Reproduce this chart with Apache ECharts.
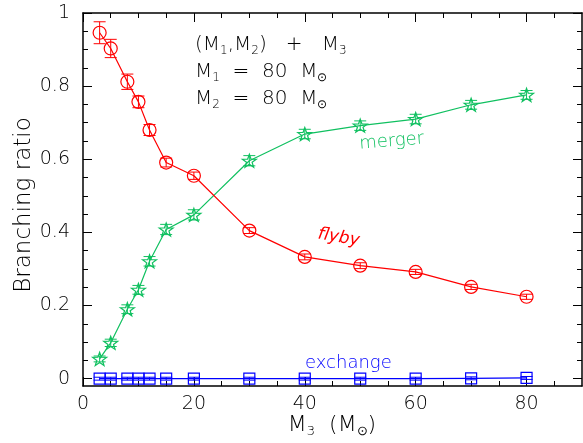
<!DOCTYPE html>
<html>
<head>
<meta charset="utf-8">
<script src="https://cdn.jsdelivr.net/npm/echarts@6/dist/echarts.min.js"></script>
<style>
  html, body { margin: 0; padding: 0; background: #fff; }
  #chart { width: 583px; height: 443px; }
</style>
</head>
<body>
<div id="chart"></div>
<script>
// Third-body mass M3 (solar masses)
const m3 = [3, 5, 8, 10, 12, 15, 20, 30, 40, 50, 60, 70, 80];

// Branching ratios and their uncertainties for each outcome
const flyby       = [0.946, 0.903, 0.812, 0.757, 0.680, 0.591, 0.555, 0.405, 0.333, 0.309, 0.292, 0.251, 0.224];
const flybyErr    = [0.030, 0.025, 0.021, 0.016, 0.015, 0.012, 0.010, 0.008, 0.008, 0.008, 0.007, 0.007, 0.007];
const merger      = [0.054, 0.098, 0.190, 0.243, 0.321, 0.408, 0.448, 0.596, 0.669, 0.692, 0.710, 0.749, 0.776];
const mergerErr   = [0.008, 0.010, 0.012, 0.012, 0.013, 0.014, 0.014, 0.014, 0.013, 0.013, 0.013, 0.012, 0.012];
const exchange    = [0, 0, 0, 0, 0, 0, 0, 0, 0, 0, 0, 0.001, 0.002];
const exchangeErr = [0.004, 0.004, 0.004, 0.004, 0.004, 0.004, 0.004, 0.004, 0.004, 0.004, 0.004, 0.004, 0.004];

// Tick positions
const xMajor = [0, 20, 40, 60, 80];
const xMinor = [5, 10, 15, 25, 30, 35, 45, 50, 55, 65, 70, 75, 85];
const yMajor = [0, 0.2, 0.4, 0.6, 0.8, 1];
const yMinor = [0.05, 0.1, 0.15, 0.25, 0.3, 0.35, 0.45, 0.5, 0.55, 0.65, 0.7, 0.75, 0.85, 0.9, 0.95];

const FONT = 'DejaVu Sans';
const W = 200;          // light stroke weight for all text
const INK = '#000';
const RED = '#ff0000';
const GREEN = '#10c060';
const BLUE = '#0000ff';

const chart = echarts.init(document.getElementById('chart'), null, { renderer: 'canvas' });

function xAxisDef(position, ticks, len, showLabels, showLine) {
  return {
    type: 'value', position, min: 0, max: 90,
    axisLine: { show: showLine, onZero: false, lineStyle: { color: '#000', width: 1.5 } },
    axisTick: { show: true, inside: true, length: len, customValues: ticks, lineStyle: { color: '#000', width: 1 } },
    axisLabel: { show: showLabels, customValues: xMajor, margin: 9, color: INK, fontFamily: FONT, fontWeight: W, fontSize: 19 },
    splitLine: { show: false }
  };
}
function yAxisDef(position, ticks, len, showLabels, showLine) {
  return {
    type: 'value', position, min: -0.02, max: 1,
    axisLine: { show: showLine, onZero: false, lineStyle: { color: '#000', width: 1.5 } },
    axisTick: { show: true, inside: true, length: len, customValues: ticks, lineStyle: { color: '#000', width: 1 } },
    axisLabel: { show: showLabels, customValues: yMajor, margin: 13, color: INK, fontFamily: FONT, fontWeight: W, fontSize: 19,
                 formatter: v => String(Math.round(v * 10) / 10) },
    splitLine: { show: false }
  };
}

function points(vals) {
  return m3.map((x, i) => [x, vals[i]]);
}

function errorBars(vals, errs, color) {
  return {
    type: 'custom',
    xAxisIndex: 0, yAxisIndex: 0,
    z: 4,
    silent: true,
    data: m3.map((x, i) => [x, vals[i] - errs[i], vals[i] + errs[i]]),
    encode: { x: 0, y: [1, 2] },
    renderItem(params, api) {
      const lo = api.coord([api.value(0), api.value(1)]);
      const hi = api.coord([api.value(0), api.value(2)]);
      const w = 6;
      const style = { stroke: color, lineWidth: 1 };
      return {
        type: 'group',
        children: [
          { type: 'line', shape: { x1: lo[0], y1: lo[1], x2: hi[0], y2: hi[1] }, style },
          { type: 'line', shape: { x1: lo[0] - w, y1: lo[1], x2: lo[0] + w, y2: lo[1] }, style },
          { type: 'line', shape: { x1: hi[0] - w, y1: hi[1], x2: hi[0] + w, y2: hi[1] }, style }
        ]
      };
    }
  };
}

const starPath = 'path://M0,-10 L2.35,-3.24 L9.51,-3.09 L3.8,1.24 L5.88,8.09 L0,4 L-5.88,8.09 L-3.8,1.24 L-9.51,-3.09 L-2.35,-3.24 Z';

function lineSeries(vals, color, symbol, size) {
  return {
    type: 'line',
    xAxisIndex: 0, yAxisIndex: 0,
    data: points(vals),
    symbol,
    symbolSize: size,
    showAllSymbol: true,
    z: 3,
    lineStyle: { color, width: 1.2 },
    itemStyle: { color: 'rgba(0,0,0,0)', borderColor: color, borderWidth: 1.2 },
    emphasis: { disabled: true }
  };
}

const big = { fontSize: 20, fontFamily: FONT, fontWeight: W, lineHeight: 24, color: INK };
const sub = { fontSize: 12, fontFamily: FONT, fontWeight: W, verticalAlign: 'bottom', lineHeight: 11, color: INK };

function noteText(left, top, text) {
  return {
    type: 'text', left, top, z: 10,
    style: { text, font: W + ' 20px ' + FONT, fill: INK, rich: { a: big, s: sub } }
  };
}

chart.setOption({
  animation: false,
  backgroundColor: '#fff',
  grid: { left: 83, top: 13, right: 1, bottom: 57, containLabel: false },
  xAxis: [
    xAxisDef('bottom', xMajor, 9, true, true),
    xAxisDef('bottom', xMinor, 5, false, false),
    xAxisDef('top', xMajor, 9, false, true),
    xAxisDef('top', xMinor, 5, false, false)
  ],
  yAxis: [
    yAxisDef('left', yMajor, 9, true, true),
    yAxisDef('left', yMinor, 5, false, false),
    yAxisDef('right', yMajor, 9, false, true),
    yAxisDef('right', yMinor, 5, false, false)
  ],
  series: [
    lineSeries(exchange, BLUE, 'rect', 11),
    errorBars(exchange, exchangeErr, BLUE),
    lineSeries(merger, GREEN, starPath, [14, 13]),
    errorBars(merger, mergerErr, GREEN),
    lineSeries(flyby, RED, 'circle', 13),
    errorBars(flyby, flybyErr, RED)
  ],
  graphic: [
    noteText(195, 35, '{a|(M}{s|1}{a|,M}{s|2}{a|)   +   M}{s|3}'),
    noteText(195, 62, '{a|M}{s|1}{a|  =  80  M}{s|⊙}'),
    noteText(195, 89, '{a|M}{s|2}{a|  =  80  M}{s|⊙}'),
    {
      type: 'text', x: 360, y: 153, rotation: 0.08, z: 10,
      style: { text: 'merger', font: W + ' 18px ' + FONT, fill: GREEN, textVerticalAlign: 'bottom' }
    },
    {
      type: 'text', x: 318, y: 234, rotation: -0.17, z: 10,
      style: { text: 'flyby', font: 'italic 17px ' + FONT, fill: RED, textVerticalAlign: 'middle' }
    },
    {
      type: 'text', x: 305, y: 363, z: 10,
      style: { text: 'exchange', font: W + ' 18px ' + FONT, fill: BLUE, textVerticalAlign: 'middle' }
    },
    {
      type: 'text', x: 24, y: 205, rotation: Math.PI / 2, z: 10,
      style: { text: 'Branching ratio', font: W + ' 23px ' + FONT, fill: INK, textAlign: 'center', textVerticalAlign: 'middle' }
    },
    {
      type: 'text', x: 332, y: 425, z: 10,
      style: {
        text: '{a|M}{s|3}{a|  (M}{s|⊙}{a|)}',
        font: W + ' 22px ' + FONT, fill: INK, textAlign: 'center', textVerticalAlign: 'middle',
        rich: {
          a: { fontSize: 22, fontFamily: FONT, fontWeight: W, lineHeight: 26, color: INK },
          s: { fontSize: 13, fontFamily: FONT, fontWeight: W, verticalAlign: 'bottom', lineHeight: 12, color: INK }
        }
      }
    }
  ]
});
</script>
</body>
</html>
